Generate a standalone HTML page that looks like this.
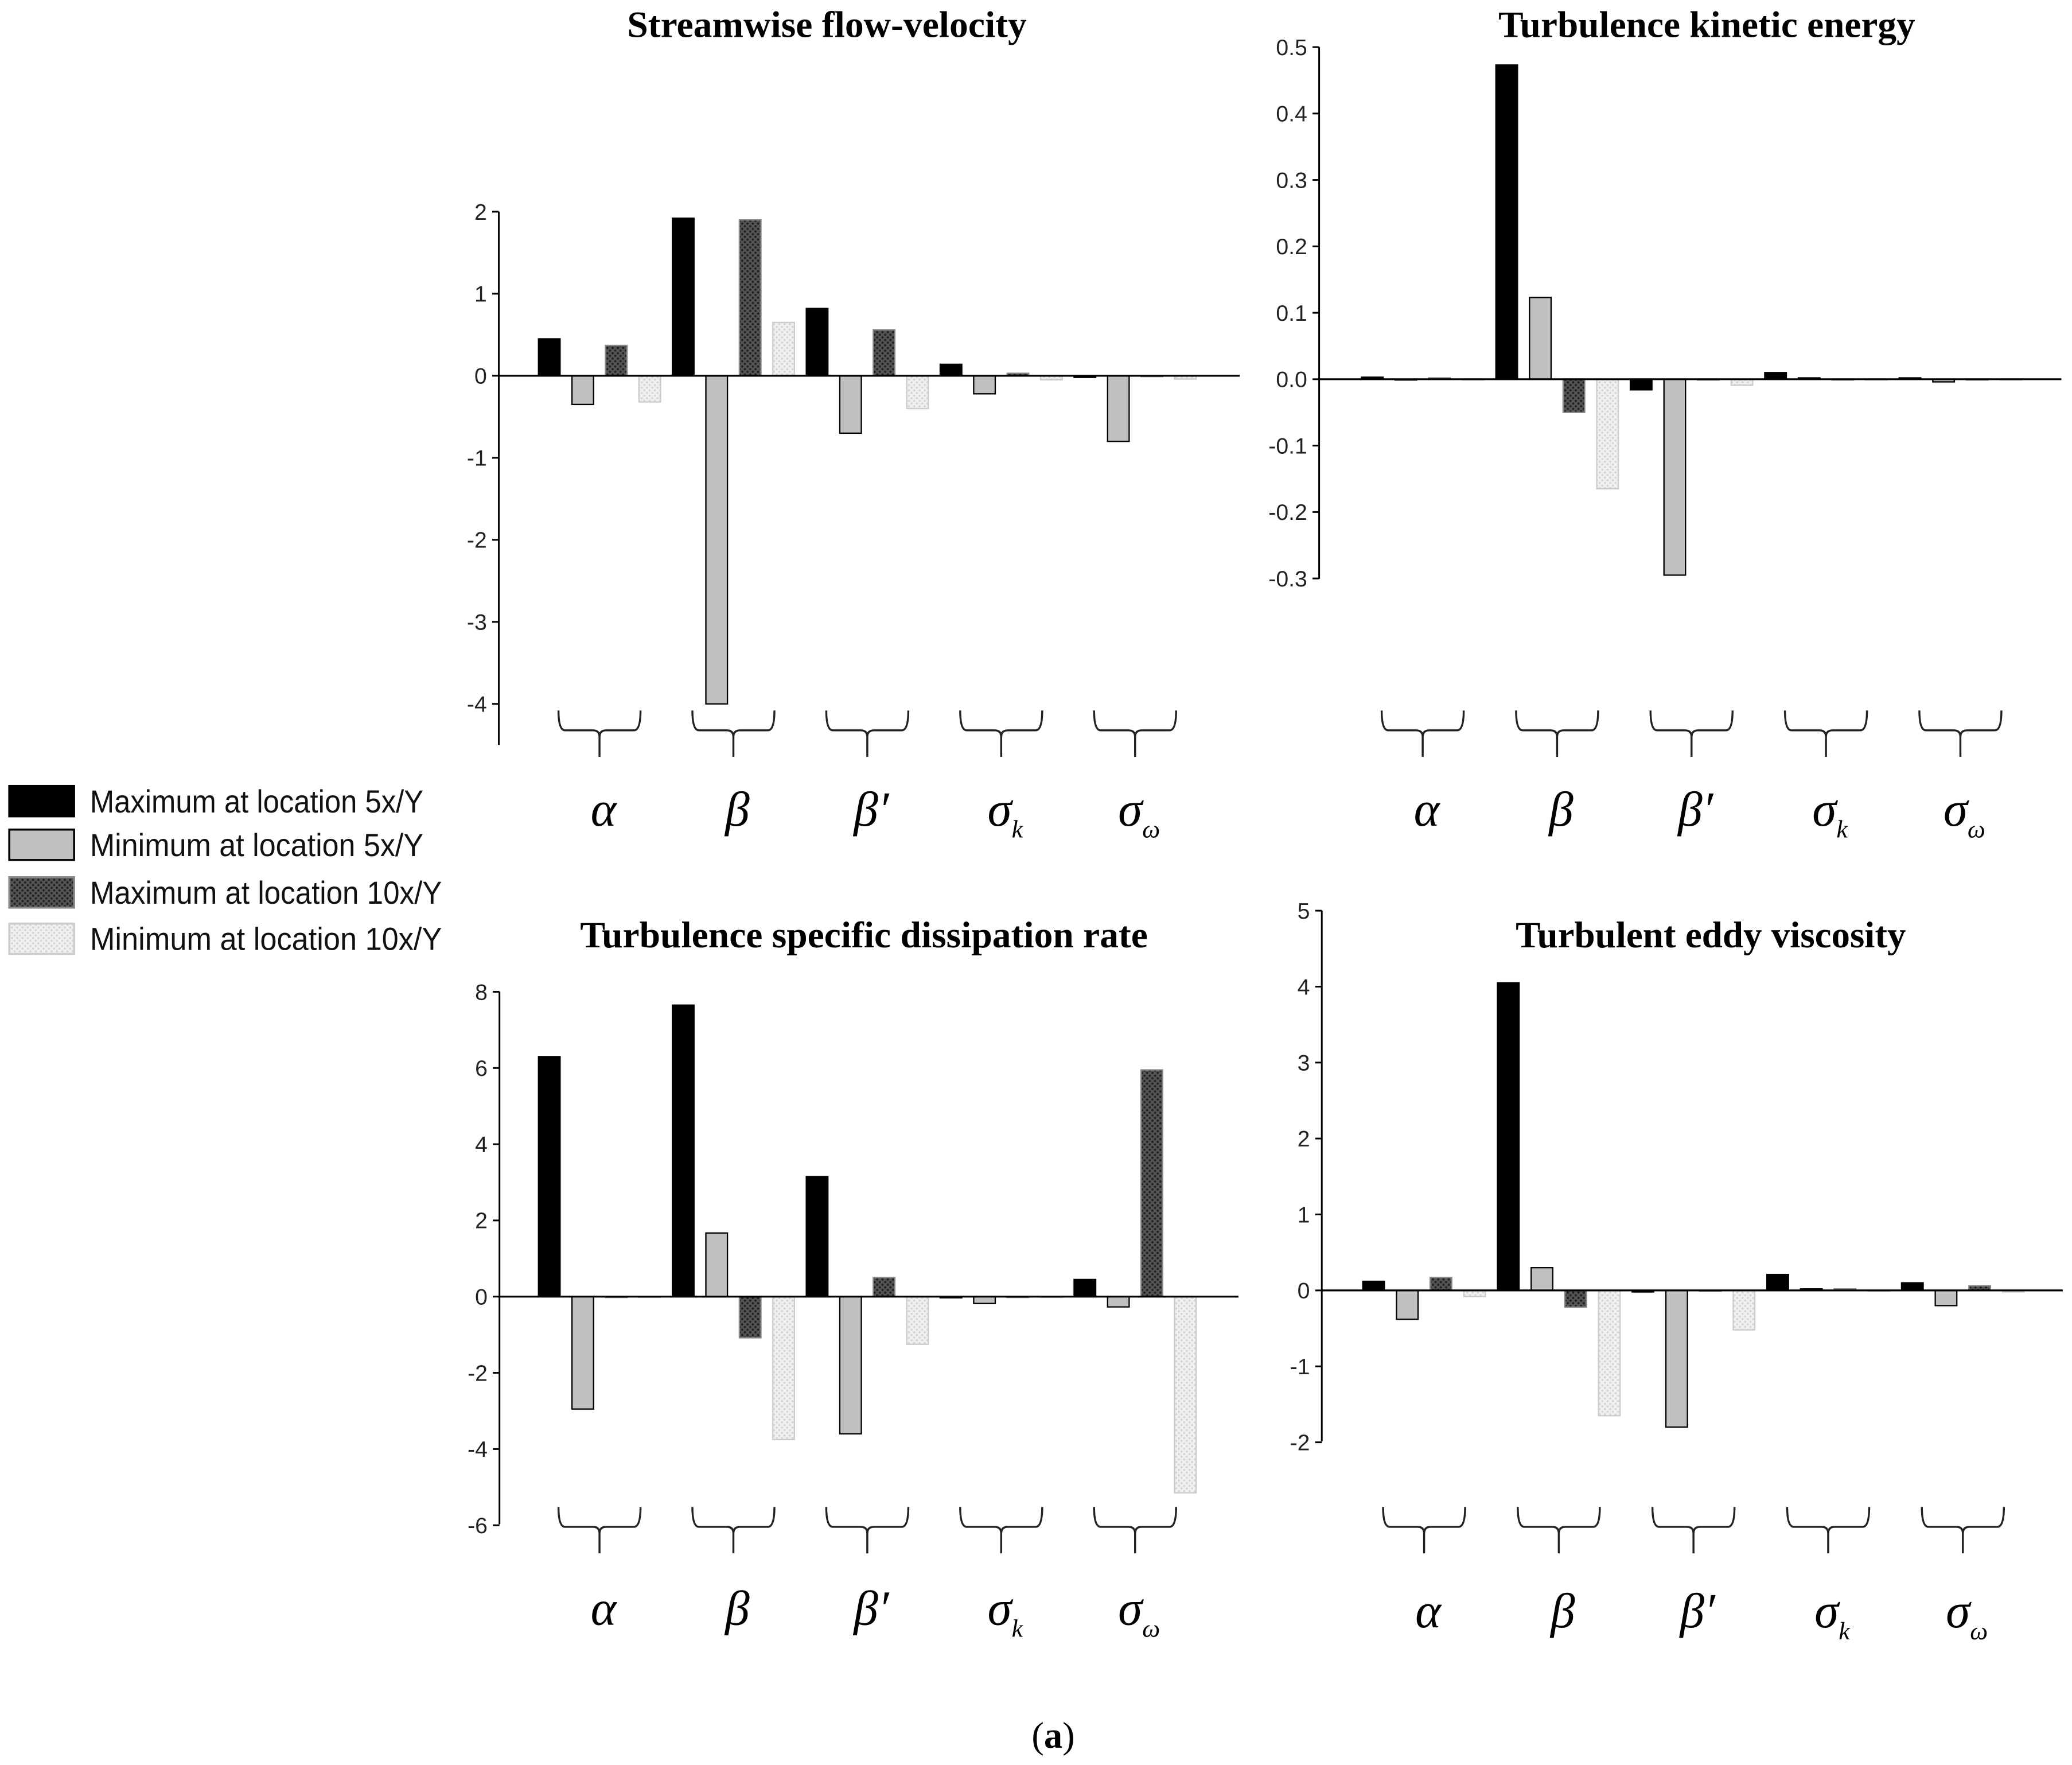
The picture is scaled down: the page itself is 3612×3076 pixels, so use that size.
<!DOCTYPE html>
<html><head><meta charset="utf-8">
<style>html,body{margin:0;padding:0;background:#fff;}svg{display:block;}</style>
</head><body>
<svg id="fig" xmlns="http://www.w3.org/2000/svg" width="3612" height="3076" viewBox="0 0 1566 1334" preserveAspectRatio="none">
<defs>
<pattern id="pDark" patternUnits="userSpaceOnUse" width="4" height="4"><rect width="4" height="4" fill="#555"/><circle cx="1" cy="1" r="0.9" fill="#222"/><circle cx="3" cy="3" r="0.9" fill="#222"/></pattern>
<pattern id="pLight" patternUnits="userSpaceOnUse" width="4" height="4"><rect width="4" height="4" fill="#f0f0f0"/><circle cx="1" cy="1" r="0.8" fill="#d4d4d4"/><circle cx="3" cy="3" r="0.8" fill="#d4d4d4"/></pattern>
</defs>
<g id="root"></g>
</svg>
<script>
// ---- data ----
const groups = ["α","β","β′","σk","σω"];
const seriesNames = ["Maximum at location 5x/Y","Minimum at location 5x/Y","Maximum at location 10x/Y","Minimum at location 10x/Y"];
// values ordered per group: [max5, min5, max10, min10]
const velocity = [0.45,-0.35,0.37,-0.32, 1.92,-4.0,1.9,0.65, 0.82,-0.7,0.56,-0.4, 0.14,-0.22,0.03,-0.05, -0.02,-0.8,0.0,-0.04];
const tke = [0.003,-0.001,0.002,0.0, 0.473,0.123,-0.05,-0.165, -0.016,-0.295,0.0,-0.009, 0.01,0.002,0.0,0.0, 0.002,-0.004,0.0,0.0];
const dissipation = [6.3,-2.95,0.0,0.0, 7.65,1.67,-1.08,-3.75, 3.15,-3.6,0.5,-1.25, -0.03,-0.18,0.0,0.0, 0.45,-0.27,5.95,-5.15];
const viscosity = [0.12,-0.38,0.17,-0.08, 4.05,0.3,-0.22,-1.65, -0.02,-1.8,0.0,-0.52, 0.21,0.02,0.02,0.0, 0.1,-0.2,0.06,-0.02];
const velTicks = [2,1,0,-1,-2,-3,-4];
const velTickLabels = ["2","1","0","-1","-2","-3","-4"];
const tkeTicks = [0.5,0.4,0.3,0.2,0.1,0.0,-0.1,-0.2,-0.3];
const tkeTickLabels = ["0.5","0.4","0.3","0.2","0.1","0.0","-0.1","-0.2","-0.3"];
const disTicks = [8,6,4,2,0,-2,-4,-6];
const disTickLabels = ["8","6","4","2","0","-2","-4","-6"];
const visTicks = [5,4,3,2,1,0,-1,-2];
const visTickLabels = ["5","4","3","2","1","0","-1","-2"];

const NS = "http://www.w3.org/2000/svg";
const root = document.getElementById('root');
function mk(tag, attrs, parent){const e=document.createElementNS(NS,tag);for(const k in attrs)e.setAttribute(k,attrs[k]);(parent||root).appendChild(e);return e;}

const fills = ["#000","#c0c0c0","url(#pDark)","url(#pLight)"];
const strokes = ["#000","#000","#888","#ccc"];

function panel(cfg){
  const g = mk('g',{});
  
  
  const y = v => cfg.y0 - (v-0)*cfg.unit;
  const x = i => cfg.firstBar + i*cfg.pitch;
  // title
  const t = mk('text',{x:cfg.titleX,y:cfg.titleY,'text-anchor':'middle','font-family':'Liberation Serif, serif','font-weight':'bold','font-size':28,textLength:cfg.titleW,lengthAdjust:'spacingAndGlyphs'},g);
  t.textContent = cfg.title;
  
  
  // axis
  const ax = mk('line',{x1:cfg.axisX,x2:cfg.axisX,y1:y(cfg.ticks[0]),y2:cfg.axisBottom,stroke:'#000','stroke-width':1.3},g);
  
  
  cfg.ticks.forEach((tv,i)=>{
    mk('line',{x1:cfg.axisX-5,x2:cfg.axisX,y1:y(tv),y2:y(tv),stroke:'#000','stroke-width':1.3},g);
    const tl = mk('text',{x:cfg.axisX-9,y:y(tv)+6,'text-anchor':'end','font-family':'Liberation Sans, sans-serif','font-size':17,fill:'#222'},g);
    tl.textContent = cfg.tickLabels[i];
    
    
  });
  // bars
  cfg.values.forEach((v,i)=>{
    const s = i%4;
    const top = Math.min(y(v),y(0)), h = Math.max(Math.abs(y(v)-y(0)),0.6);
    const r = mk('rect',{x:x(i),y:top,width:cfg.barW,height:h,fill:fills[s],stroke:strokes[s],'stroke-width':1},g);
    
    
  });
  // zero line
  const zl = mk('line',{x1:cfg.axisX,x2:cfg.zeroEnd,y1:y(0),y2:y(0),stroke:'#000','stroke-width':1.4},g);
  
  
  // braces + labels
  groups.forEach((gn,gi)=>{
    const xc = x(gi*4) + (3*cfg.pitch + cfg.barW)/2;
    const x0 = xc-31, x1 = xc+31, bt = cfg.braceTop, bm = bt+15, bb = bt+35;
    const p = mk('path',{d:`M${x0},${bt} Q${x0},${bm} ${x0+5},${bm} L${xc-5},${bm} Q${xc},${bm} ${xc},${bm+5} L${xc},${bb} M${xc},${bm+5} Q${xc},${bm} ${xc+5},${bm} L${x1-5},${bm} Q${x1},${bm} ${x1},${bt}`,fill:'none',stroke:'#222','stroke-width':1.5},g);
    
    
    const lab = mk('text',{x:xc+3,y:cfg.labelY,'text-anchor':'middle','font-family':'Liberation Serif, serif','font-style':'italic','font-size':37},g);
    
    
    if(gn.length===2 && gn[0]==='σ'){
      lab.textContent = 'σ';
      const sub = mk('tspan',{'font-size':19,dy:9},lab);
      sub.textContent = gn[1]==='k' ? 'k' : 'ω';
    } else lab.textContent = gn;
  });
}

panel({name:'streamwise-velocity-chart',short:'vel',title:'Streamwise flow-velocity',titleX:625,titleY:28,titleW:302,
  axisX:377,y0:284,unit:62,axisBottom:563,zeroEnd:937,firstBar:407,pitch:25.3,barW:16.3,
  ticks:velTicks,tickLabels:velTickLabels,values:velocity,braceTop:537,labelY:624});
panel({name:'tke-chart',short:'tke',title:'Turbulence kinetic energy',titleX:1290,titleY:28,titleW:315,
  axisX:997,y0:286.6,unit:502,axisBottom:437.5,zeroEnd:1558,firstBar:1029,pitch:25.4,barW:16.3,
  ticks:tkeTicks,tickLabels:tkeTickLabels,values:tke,braceTop:537,labelY:624});
panel({name:'dissipation-chart',short:'dis',title:'Turbulence specific dissipation rate',titleX:653,titleY:716,titleW:429,
  axisX:377.5,y0:980,unit:28.8,axisBottom:1152,zeroEnd:936,firstBar:407,pitch:25.3,barW:16.3,
  ticks:disTicks,tickLabels:disTickLabels,values:dissipation,braceTop:1139,labelY:1228});
panel({name:'eddy-viscosity-chart',short:'vis',title:'Turbulent eddy viscosity',titleX:1293,titleY:716,titleW:295,
  axisX:999,y0:975.3,unit:57.4,axisBottom:1089.3,zeroEnd:1559,firstBar:1030,pitch:25.45,barW:16.3,
  ticks:visTicks,tickLabels:visTickLabels,values:viscosity,braceTop:1139,labelY:1230});

// legend
const leg = mk('g',{});


const legY = [605,638,674,709];
seriesNames.forEach((n,i)=>{
  const r = mk('rect',{x:7,y:legY[i]-11,width:49,height:23,fill:fills[i],stroke:strokes[i],'stroke-width':1.5},leg);
  
  
  const t = mk('text',{x:68,y:legY[i]+9,'font-family':'Liberation Sans, sans-serif','font-size':24,fill:'#111',textLength:i<2?252:266,lengthAdjust:'spacingAndGlyphs'},leg);
  t.textContent = n;
  
  
});
const cap = mk('text',{x:796,y:1321,'text-anchor':'middle','font-family':'Liberation Serif, serif','font-size':28});


cap.textContent = '(';
const cb = mk('tspan',{'font-weight':'bold'},cap); cb.textContent='a';
const ce = mk('tspan',{},cap); ce.textContent=')';
</script>
</body></html>
